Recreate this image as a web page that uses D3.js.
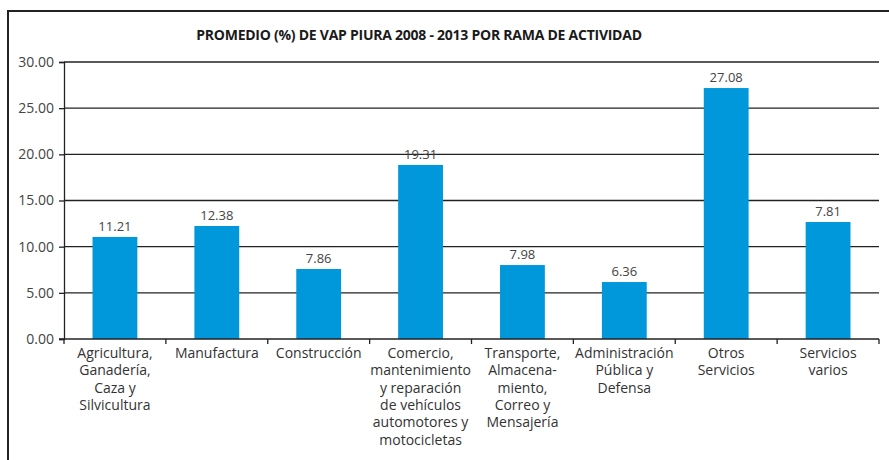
<!DOCTYPE html>
<html>
<head>
<meta charset="utf-8">
<script src="https://cdn.jsdelivr.net/npm/d3@7"></script>
<style>
  body { margin: 0; background: #fff; }
  svg { display: block; font-family: "Open Sans", "Noto Sans", sans-serif; }
</style>
</head>
<body>
<div id="chart"></div>
<script>
// categories, one entry per bar ("|" marks a line break in the axis label)
const categories = [
    "Agricultura,|Ganadería,|Caza y|Silvicultura",
    "Manufactura",
    "Construcción",
    "Comercio,|mantenimiento|y reparación|de vehículos|automotores y|motocicletas",
    "Transporte,|Almacena-|miento,|Correo y|Mensajería",
    "Administración|Pública y|Defensa",
    "Otros|Servicios",
    "Servicios|varios"
];
// bar heights as drawn
const values = [11.05, 12.24, 7.58, 18.85, 8.01, 6.17, 27.18, 12.67];
// value labels as printed above the bars
const valueLabels = ["11.21", "12.38", "7.86", "19.31", "7.98", "6.36", "27.08", "7.81"];
const yTicks = [0, 5, 10, 15, 20, 25, 30];
const title = "PROMEDIO (%) DE VAP PIURA 2008 - 2013 POR RAMA DE ACTIVIDAD";

const width = 889, height = 460;
const margin = { top: 62, right: 10, bottom: 121, left: 64 };
const innerW = width - margin.left - margin.right;
const innerH = height - margin.top - margin.bottom;

const svg = d3.select("#chart")
    .append("svg")
    .attr("width", width)
    .attr("height", height);

// outer frame (top and left edges visible)
svg.append("path")
    .attr("d", `M8,${height} L8,11 L${width},11`)
    .style("fill", "none")
    .style("stroke", "#222")
    .style("stroke-width", "2px");

svg.append("text")
    .attr("x", 419)
    .attr("y", 40)
    .attr("text-anchor", "middle")
    .style("font-weight", "bold")
    .style("font-size", "14px")
    .style("letter-spacing", "-0.25px")
    .style("fill", "#1a1a1a")
    .text(title);

const g = svg.append("g")
    .attr("transform", `translate(${margin.left}, ${margin.top})`);

const x = d3.scaleBand()
    .domain(d3.range(categories.length))
    .range([0, innerW])
    .paddingInner(0.56)
    .paddingOuter(0.28);

const y = d3.scaleLinear()
    .domain([0, 30])
    .range([innerH, 0]);

// gridlines
g.append("g")
    .selectAll("line")
    .data(yTicks.filter(d => d > 0))
    .join("line")
    .attr("x1", 0)
    .attr("x2", innerW)
    .attr("y1", d => y(d))
    .attr("y2", d => y(d))
    .style("stroke", "#222")
    .style("stroke-width", "1.3px");

// y axis
const yAxis = d3.axisLeft(y)
    .tickValues(yTicks)
    .tickSize(5)
    .tickPadding(5)
    .tickFormat(d3.format(".2f"));

g.append("g")
    .attr("class", "y-axis")
    .call(yAxis)
    .call(sel => sel.selectAll("line, path").style("stroke", "#222").style("stroke-width", "1.3px"))
    .call(sel => sel.selectAll("text")
        .style("font-size", "14px")
        .style("font-family", "\"Open Sans\", sans-serif")
        .style("fill", "#444"));

// bars
g.selectAll(".bar")
    .data(values)
    .join("rect")
    .attr("class", "bar")
    .attr("x", (d, i) => x(i))
    .attr("y", d => y(d))
    .attr("width", x.bandwidth())
    .attr("height", d => innerH - y(d))
    .style("fill", "#0098da");

// value labels
g.selectAll(".value")
    .data(values)
    .join("text")
    .attr("class", "value")
    .attr("x", (d, i) => x(i) + x.bandwidth() / 2)
    .attr("y", d => y(d) - 6)
    .attr("text-anchor", "middle")
    .style("font-size", "13px")
    .style("fill", "#444")
    .text((d, i) => valueLabels[i]);

// x axis: baseline with ticks at band boundaries
const step = x.step();
const xAxis = g.append("g")
    .attr("class", "x-axis")
    .attr("transform", `translate(0, ${innerH})`);

xAxis.append("line")
    .attr("x1", -5)
    .attr("x2", innerW)
    .style("stroke", "#222")
    .style("stroke-width", "1.3px");

xAxis.selectAll(".tick")
    .data(d3.range(categories.length + 1))
    .join("line")
    .attr("class", "tick")
    .attr("x1", i => i * step)
    .attr("x2", i => i * step)
    .attr("y1", 0)
    .attr("y2", 5)
    .style("stroke", "#222")
    .style("stroke-width", "1.3px");

const labels = xAxis.selectAll(".cat")
    .data(categories)
    .join("text")
    .attr("class", "cat")
    .attr("text-anchor", "middle")
    .attr("transform", (d, i) => `translate(${x(i) + x.bandwidth() / 2}, 19)`)
    .style("font-size", "14px")
    .style("fill", "#333");

labels.selectAll("tspan")
    .data(d => d.split("|"))
    .join("tspan")
    .attr("x", 0)
    .attr("dy", (d, i) => i === 0 ? 0 : 17.3)
    .text(d => d);
</script>
</body>
</html>
